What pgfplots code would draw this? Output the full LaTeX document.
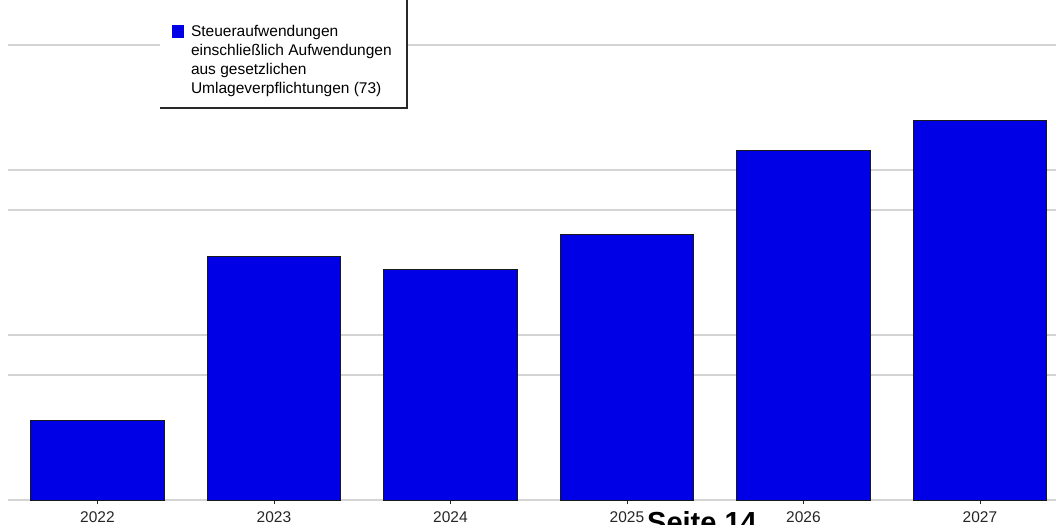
\documentclass[border=0pt]{standalone}
\usepackage{pgfplots}
\pgfplotsset{compat=1.18}
\usepackage{fontspec}
\setmainfont{Liberation Sans}
\definecolor{barblue}{RGB}{0,0,230}
\definecolor{gridgray}{RGB}{212,212,212}
\definecolor{boxgray}{RGB}{40,40,40}
\begin{document}
\begin{tikzpicture}[x=1pt,y=1pt]
\useasboundingbox (0,0) rectangle (1056,524);
\clip (0,0) rectangle (1056,524);
\begin{axis}[
  at={(8pt,24pt)}, anchor=south west,
  width=1048pt, height=500pt, scale only axis,
  xmin=-0.507, xmax=5.431,
  ymin=0, ymax=500,
  ybar, bar width=0.757,
  axis line style={draw=none},
  ytick={0,125,165,290,330,455},
  yticklabels={},
  ytick style={draw=none},
  ymajorgrids,
  major grid style={gridgray, line width=1.2pt},
  xtick={0,1,2,3,4,5},
  xticklabels={2022,2023,2024,2025,2026,2027},
  xtick pos=bottom,
  xtick align=outside,
  major tick length=4pt,
  xtick style={draw=boxgray, line width=0.8pt},
  xticklabel style={font=\fontsize{15.5}{18}\selectfont, text=black!85, yshift=-4pt},
  clip=false,
  legend style={
    at={(axis description cs:0.1565,0.9536)}, anchor=north west,
    draw=none, fill=none, inner sep=0pt, outer sep=0pt,
    nodes={inner sep=0pt, outer sep=0pt, anchor=base west},
    /tikz/every odd column/.append style={column sep=7pt},
  },
  legend cell align=left,
  legend image code/.code={\fill[barblue] (0pt,-1pt) rectangle (11pt,10.5pt);},
]
\fill[white] (axis description cs:0.14504,0.784) rectangle (axis description cs:0.38073,1.02);
\addplot[fill=barblue, draw=black!90, line width=1pt]
  coordinates {(0,79) (1,243) (2,230) (3,265) (4,349) (5,379)};
\addlegendentry{\fontsize{15.5}{19}\selectfont\begin{tabular}[t]{@{}l@{}}Steueraufwendungen\\einschließlich Aufwendungen\\aus gesetzlichen\\Umlageverpflichtungen (73)\end{tabular}}
\draw[boxgray, line width=1.6pt] (axis description cs:0.14504,0.784) -- (axis description cs:0.38073,0.784) -- (axis description cs:0.38073,1.05);
\end{axis}
\node[anchor=base west, inner sep=0pt, font=\bfseries\fontsize{29}{34}\selectfont] at (647,-9) {Seite 14};
\end{tikzpicture}
\end{document}
